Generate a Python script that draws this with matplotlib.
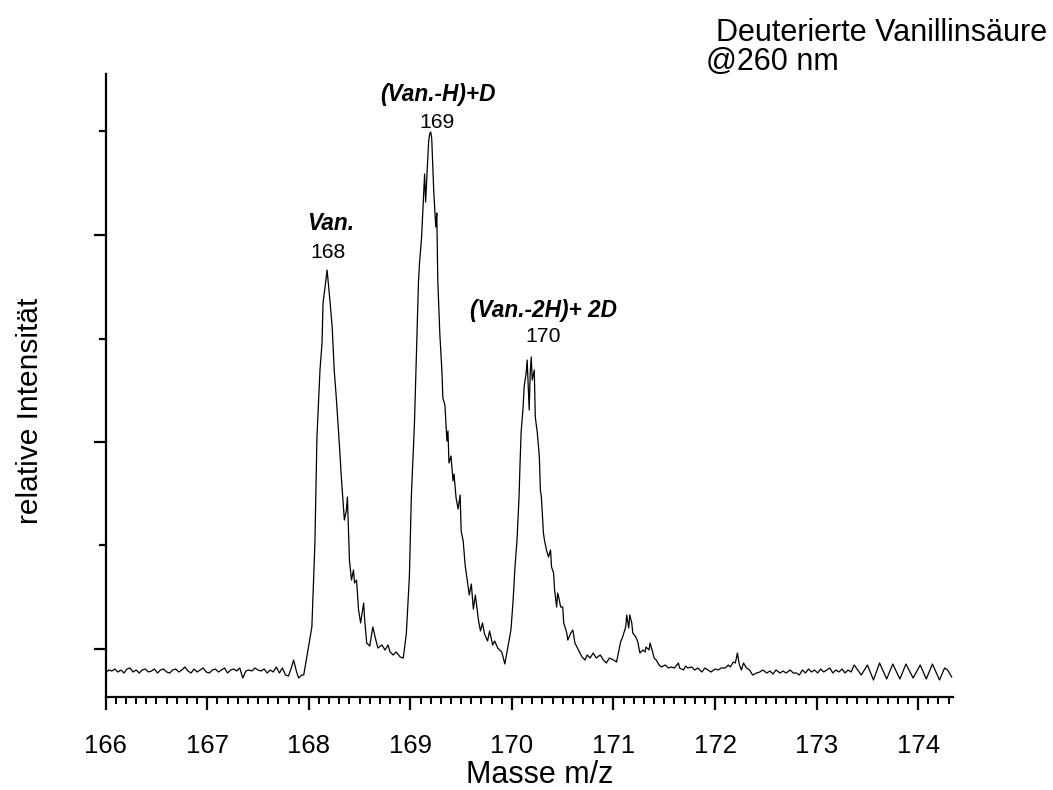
import matplotlib
matplotlib.use("Agg")
import matplotlib.pyplot as plt
from matplotlib.ticker import FixedLocator, MultipleLocator

plt.rcParams['font.family'] = ['Liberation Sans', 'DejaVu Sans']

# m/z values of the trace
mz = [166.00, 166.03, 166.06, 166.09, 166.12, 166.15, 166.18, 166.21, 166.24, 166.27,
      166.30, 166.33, 166.36, 166.39, 166.42, 166.45, 166.48, 166.51, 166.54, 166.57,
      166.60, 166.63, 166.66, 166.69, 166.72, 166.75, 166.78, 166.81, 166.84, 166.87,
      166.90, 166.93, 166.96, 166.99, 167.02, 167.05, 167.08, 167.11, 167.14, 167.17,
      167.20, 167.23, 167.26, 167.29, 167.32, 167.35, 167.38, 167.41, 167.44, 167.47,
      167.50, 167.53, 167.56, 167.59, 167.62, 167.65, 167.68, 167.71, 167.74, 167.77,
      167.80, 167.83, 167.85, 167.88, 167.90, 167.93, 167.95, 167.98, 168.00, 168.03,
      168.06, 168.08, 168.11, 168.13, 168.14, 168.16, 168.18, 168.21, 168.23, 168.25,
      168.27, 168.29, 168.30, 168.32, 168.35, 168.37, 168.38, 168.39, 168.40, 168.42,
      168.44, 168.45, 168.47, 168.49, 168.51, 168.54, 168.55, 168.57, 168.60, 168.63,
      168.66, 168.68, 168.72, 168.75, 168.78, 168.80, 168.83, 168.86, 168.90, 168.93,
      168.96, 168.99, 169.01, 169.04, 169.06, 169.08, 169.09, 169.11, 169.14, 169.15,
      169.18, 169.19, 169.20, 169.21, 169.23, 169.25, 169.26, 169.27, 169.29, 169.31,
      169.32, 169.34, 169.36, 169.37, 169.38, 169.40, 169.42, 169.43, 169.45, 169.47,
      169.49, 169.50, 169.52, 169.54, 169.55, 169.58, 169.60, 169.62, 169.64, 169.67,
      169.69, 169.71, 169.73, 169.76, 169.78, 169.81, 169.83, 169.86, 169.90, 169.93,
      169.96, 169.99, 170.01, 170.03, 170.05, 170.07, 170.08, 170.09, 170.11, 170.12,
      170.14, 170.15, 170.17, 170.18, 170.19, 170.20, 170.22, 170.23, 170.25, 170.27,
      170.28, 170.29, 170.31, 170.32, 170.34, 170.36, 170.38, 170.39, 170.41, 170.42,
      170.44, 170.45, 170.46, 170.48, 170.50, 170.51, 170.54, 170.55, 170.58, 170.60,
      170.62, 170.64, 170.67, 170.69, 170.72, 170.74, 170.77, 170.80, 170.83, 170.87,
      170.90, 170.93, 170.96, 171.00, 171.03, 171.07, 171.09, 171.12, 171.13, 171.15,
      171.16, 171.18, 171.19, 171.22, 171.24, 171.26, 171.29, 171.31, 171.32, 171.35,
      171.36, 171.38, 171.40, 171.42, 171.45, 171.47, 171.51, 171.54, 171.57, 171.60,
      171.64, 171.65, 171.69, 171.71, 171.73, 171.77, 171.80, 171.83, 171.87, 171.90,
      171.93, 171.96, 172.00, 172.03, 172.06, 172.10, 172.13, 172.15, 172.18, 172.20,
      172.22, 172.24, 172.26, 172.28, 172.31, 172.34, 172.37, 172.41, 172.44, 172.47,
      172.51, 172.54, 172.57, 172.60, 172.64, 172.67, 172.70, 172.74, 172.77, 172.80,
      172.83, 172.86, 172.89, 172.92, 172.95, 172.98, 173.01, 173.04, 173.07, 173.10,
      173.13, 173.16, 173.19, 173.22, 173.25, 173.28, 173.31, 173.34, 173.37, 173.44,
      173.50, 173.56, 173.62, 173.69, 173.75, 173.82, 173.88, 173.95, 174.02, 174.08,
      174.14, 174.21, 174.26, 174.29, 174.33]

# relative intensity (arbitrary units)
intensity = [24, 27, 26, 28, 25, 27, 24, 28, 29, 25,
             27, 24, 27, 28, 25, 26, 28, 24, 27, 28,
             25, 24, 27, 28, 25, 27, 30, 26, 24, 28,
             25, 27, 29, 25, 24, 27, 28, 25, 27, 29,
             24, 27, 28, 26, 29, 19, 26, 27, 26, 29,
             27, 26, 28, 24, 27, 25, 30, 24, 29, 22,
             21, 30, 37, 25, 19, 22, 22, 40, 52, 70,
             154, 260, 327, 354, 394, 410, 427, 394, 370, 327,
             300, 270, 254, 220, 177, 187, 200, 170, 137, 117,
             127, 114, 117, 87, 74, 94, 77, 54, 51, 70,
             57, 49, 52, 47, 52, 45, 42, 45, 40, 39,
             63, 120, 202, 273, 345, 416, 434, 459, 523, 495,
             556, 563, 565, 559, 506, 470, 484, 416, 363, 327,
             299, 292, 256, 266, 234, 241, 216, 223, 199, 188,
             202, 166, 156, 131, 124, 102, 113, 88, 102, 77,
             66, 74, 63, 56, 66, 52, 56, 49, 45, 33,
             50, 67, 94, 130, 157, 200, 234, 264, 290, 310,
             324, 337, 287, 324, 340, 317, 327, 280, 264, 240,
             207, 200, 164, 157, 147, 140, 147, 130, 124, 107,
             90, 104, 100, 90, 90, 74, 64, 57, 64, 67,
             54, 50, 44, 40, 37, 42, 39, 44, 39, 42,
             37, 34, 39, 37, 35, 55, 60, 70, 82, 69,
             82, 74, 64, 60, 55, 44, 47, 45, 50, 47,
             54, 47, 39, 37, 32, 30, 32, 29, 30, 29,
             34, 29, 27, 31, 29, 30, 27, 29, 25, 29,
             27, 25, 28, 27, 29, 29, 32, 30, 35, 34,
             44, 32, 27, 34, 29, 27, 22, 24, 25, 27,
             24, 26, 23, 27, 24, 26, 24, 27, 24, 24,
             22, 27, 24, 28, 25, 27, 24, 28, 25, 27,
             29, 24, 27, 25, 28, 24, 27, 25, 32, 22,
             32, 17, 34, 18, 33, 18, 33, 19, 32, 18,
             33, 17, 29, 27, 20]

x_ticks = [166, 167, 168, 169, 170, 171, 172, 173, 174]
y_major_ticks = [48, 255, 462]
y_minor_ticks = [152, 358, 566]

annotations = [
    ("Van.", 168.21, 474, True),
    ("168", 168.19, 445, False),
    ("(Van.-H)+D", 169.27, 602, True),
    ("169", 169.26, 575, False),
    ("(Van.-2H)+ 2D", 170.31, 386, True),
    ("170", 170.31, 360, False),
]

fig = plt.figure(figsize=(10.53, 7.90), dpi=100)
ax = fig.add_axes([105.7 / 1053, 1 - 697 / 790, (952.7 - 105.7) / 1053, (697 - 74) / 790])

ax.plot(mz, intensity, color='black', lw=0.9)

ax.set_xlim(166, 174.34)
ax.set_ylim(0, 623)

for s in ('top', 'right'):
    ax.spines[s].set_visible(False)
for s in ('left', 'bottom'):
    ax.spines[s].set_linewidth(1.6)

ax.xaxis.set_major_locator(FixedLocator(x_ticks))
ax.xaxis.set_minor_locator(MultipleLocator(0.1))
ax.yaxis.set_major_locator(FixedLocator(y_major_ticks))
ax.yaxis.set_minor_locator(FixedLocator(y_minor_ticks))
ax.set_xticklabels([str(t) for t in x_ticks])
ax.set_yticklabels([])

ax.tick_params(axis='x', which='major', direction='out', length=9.5, width=1.6,
               labelsize=18.5, pad=17)
ax.tick_params(axis='x', which='minor', direction='out', length=5, width=1.4)
ax.tick_params(axis='y', which='major', direction='out', length=9, width=1.6)
ax.tick_params(axis='y', which='minor', direction='out', length=5, width=1.6)

for text, x, y, bold in annotations:
    if bold:
        ax.text(x, y, text, ha='center', va='center', fontsize=16.3,
                fontweight='bold', fontstyle='italic')
    else:
        ax.text(x, y, text, ha='center', va='center', fontsize=15.2)

fig.text(540 / 1053, 1 - 775 / 790, "Masse m/z", ha='center', va='center', fontsize=22)
fig.text(30 / 1053, 1 - 411 / 790, "relative Intensität", ha='center', va='center',
         fontsize=21.5, rotation=90)
fig.text(716 / 1053, 1 - 33 / 790, "Deuterierte Vanillinsäure", ha='left', va='center',
         fontsize=22)
fig.text(706 / 1053, 1 - 62 / 790, "@260 nm", ha='left', va='center', fontsize=22)

fig.savefig("out.png", dpi=100)
